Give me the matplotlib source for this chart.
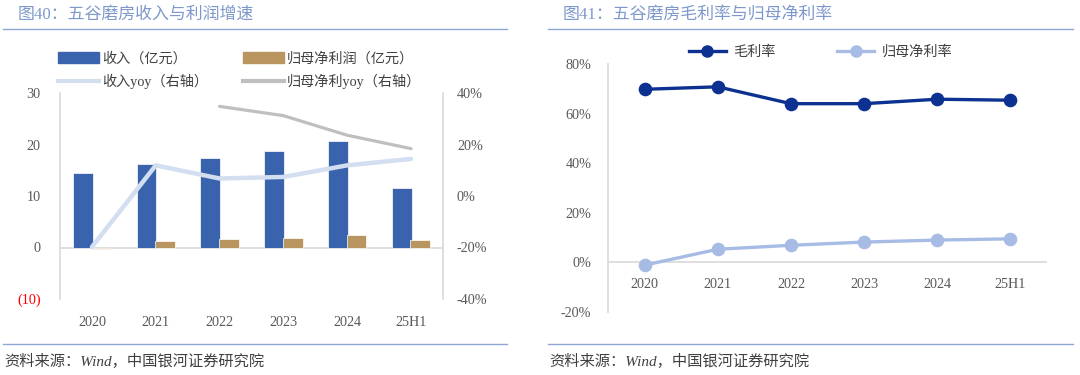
import numpy as np
import matplotlib
matplotlib.use("Agg")
import matplotlib.pyplot as plt
from matplotlib.patches import Patch
from matplotlib.lines import Line2D
from matplotlib.transforms import ScaledTranslation

plt.rcParams['font.family'] = ['Liberation Serif', 'Noto Sans CJK SC', 'DejaVu Sans']

# ---------------- data ----------------
categories = ['2020', '2021', '2022', '2023', '2024', '25H1']
revenue = [14.5, 16.3, 17.4, 18.8, 20.7, 11.6]          # 亿元
net_profit = [-0.3, 1.2, 1.6, 1.9, 2.35, 1.45]          # 亿元
revenue_yoy = [-19.8, 11.9, 6.8, 7.4, 11.9, 14.4]       # %
profit_yoy = [np.nan, np.nan, 34.8, 31.2, 23.6, 18.4]   # %
gross_margin = [69.8, 70.8, 64.0, 64.0, 65.8, 65.4]     # %
net_margin = [-1.1, 5.3, 6.9, 8.2, 9.0, 9.5]            # %

left_ticks = [-10, 0, 10, 20, 30]
left_tick_labels = ['(10)', '0', '10', '20', '30']
right_ticks = [-40, -20, 0, 20, 40]
margin_ticks = [-20, 0, 20, 40, 60, 80]

title_left = '图40：五谷磨房收入与利润增速'
title_right = '图41：五谷磨房毛利率与归母净利率'
source = '资料来源：Wind，中国银河证券研究院'

# ---------------- styles ----------------
C_REV = '#3A63AE'
C_NP = '#B9955F'
C_REVYOY = '#D3DEF1'
C_NPYOY = '#BFBFBF'
C_GM = '#0C3190'
C_NM = '#A7BCE5'
C_TITLE = '#7F98CC'
C_RULE = '#8EA6D6'
C_TXT = '#595959'
C_AX = '#D9D9D9'
FS = 10.2

W, H = 1080, 375
fig = plt.figure(figsize=(W / 100, H / 100), dpi=100)

def fx(px):
    return px / W

def fy(py):
    return 1 - py / H

# titles and rules
fig.text(fx(18), fy(15), title_left, color=C_TITLE, fontsize=12.2, va='center', ha='left')
fig.text(fx(563), fy(15), title_right, color=C_TITLE, fontsize=12.2, va='center', ha='left')
for x0, x1 in [(3, 507), (548, 1073)]:
    fig.add_artist(Line2D([fx(x0), fx(x1)], [fy(29), fy(29)], color=C_RULE, lw=1.0))
    fig.add_artist(Line2D([fx(x0), fx(x1)], [fy(344), fy(344)], color=C_RULE, lw=1.0))
fig.text(fx(4), fy(361), source, color='#404040', fontsize=11, style='italic', va='center', ha='left')
fig.text(fx(549), fy(361), source, color='#404040', fontsize=11, style='italic', va='center', ha='left')

# ---------------- left chart ----------------
ax = fig.add_axes([fx(60), fy(299), fx(443 - 60), fy(93) - fy(299)])
x = np.arange(len(categories))
bw = 0.31
ax.bar(x - 0.145, revenue, width=bw, color=C_REV, edgecolor='white', linewidth=0.5, zorder=2)
ax.bar(x + 0.145, net_profit, width=bw, color=C_NP, edgecolor='white', linewidth=0.5, zorder=2)
ax.set_xlim(-0.5, len(categories) - 0.5)
ax.set_ylim(-10, 30)
ax.set_yticks(left_ticks)
ax.set_yticklabels(left_tick_labels)
for lab in ax.get_yticklabels():
    lab.set_color('red' if lab.get_text().startswith('(') else C_TXT)
ax.tick_params(axis='y', length=0, pad=14, labelsize=FS)
ax.set_xticks([])
off_l = ax.transData + ScaledTranslation(0, -23 / 100, fig.dpi_scale_trans)
for i, c in enumerate(categories):
    ax.text(i, -10, c, transform=off_l, ha='center', va='center', fontsize=FS, color=C_TXT)
ax.axhline(0, color=C_AX, lw=1.2, zorder=1)
for s in ['top', 'bottom']:
    ax.spines[s].set_visible(False)
for s in ['left', 'right']:
    ax.spines[s].set_color(C_AX)
    ax.spines[s].set_linewidth(1.2)

ax2 = ax.twinx()
ax2.plot(x, revenue_yoy, color=C_REVYOY, lw=3.2, zorder=3, solid_capstyle='round')
ax2.plot(x, profit_yoy, color=C_NPYOY, lw=2.3, zorder=3, solid_capstyle='round')
ax2.set_ylim(-40, 40)
ax2.set_yticks(right_ticks)
ax2.set_yticklabels([f'{v}%' for v in right_ticks])
ax2.tick_params(axis='y', length=0, pad=10, labelsize=FS, labelcolor=C_TXT)
for s in ax2.spines.values():
    s.set_visible(False)

handles = [Patch(color=C_REV), Line2D([], [], color=C_REVYOY, lw=3),
           Patch(color=C_NP), Line2D([], [], color=C_NPYOY, lw=3)]
labels = ['收入（亿元）', '收入yoy（右轴）', '归母净利润（亿元）', '归母净利yoy（右轴）']
fig.legend(handles, labels, ncol=2, loc='upper left', bbox_to_anchor=(fx(45), fy(39)),
           frameon=False, fontsize=FS, handlelength=2.9, handleheight=0.75,
           handletextpad=0.2, columnspacing=2.5, labelspacing=0.6, labelcolor='#404040')

# ---------------- right chart ----------------
bx = fig.add_axes([fx(608), fy(312), fx(1047 - 608), fy(64) - fy(312)])
bx.plot(x, gross_margin, color=C_GM, lw=2.4, marker='o', markersize=8.8, zorder=3)
bx.plot(x, net_margin, color=C_NM, lw=2.4, marker='o', markersize=8.8, zorder=3)
bx.set_xlim(-0.5, len(categories) - 0.5)
bx.set_ylim(-20, 80)
bx.set_yticks(margin_ticks)
bx.set_yticklabels([f'{v}%' for v in margin_ticks])
bx.tick_params(axis='y', length=0, pad=12, labelsize=FS, labelcolor=C_TXT)
bx.set_xticks([])
off_r = bx.transData + ScaledTranslation(0, -22 / 100, fig.dpi_scale_trans)
for i, c in enumerate(categories):
    bx.text(i, 0, c, ha='center', va='center', fontsize=FS, color=C_TXT, transform=off_r)
bx.axhline(0, color=C_AX, lw=1.2, zorder=1)
for s in ['top', 'bottom', 'right']:
    bx.spines[s].set_visible(False)
bx.spines['left'].set_color(C_AX)
bx.spines['left'].set_linewidth(1.2)

h2 = [Line2D([], [], color=C_GM, lw=2.4, marker='o', markersize=8),
      Line2D([], [], color=C_NM, lw=2.4, marker='o', markersize=8)]
fig.legend(h2, ['毛利率', '归母净利率'], ncol=2, loc='center left', bbox_to_anchor=(fx(676), fy(52)),
           frameon=False, fontsize=FS, handlelength=2.6, handletextpad=0.5, columnspacing=4.4,
           labelcolor='#404040')

fig.savefig('out.png', dpi=100)
